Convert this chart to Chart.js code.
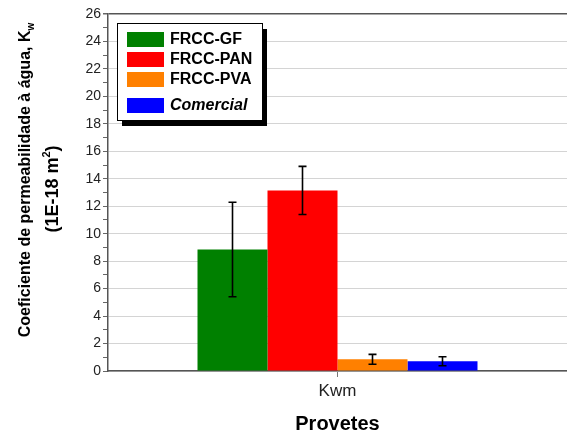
<!DOCTYPE html>
<html>
<head>
<meta charset="utf-8">
<script src="https://cdn.jsdelivr.net/npm/chart.js@4/dist/chart.umd.min.js"></script>
<style>
  html, body { margin: 0; padding: 0; background: #fff; }
  #wrap { width: 567px; height: 434px; }
</style>
</head>
<body>
<div id="wrap"><canvas id="chart" width="567" height="434"></canvas></div>
<script>
// --- Data ---
const CATEGORIES = ['Kwm'];
const SERIES = ['FRCC-GF', 'FRCC-PAN', 'FRCC-PVA', 'Comercial'];
const COLORS = ['#008000', '#ff0000', '#ff8000', '#0000ff'];
const VALUES = [8.85, 13.15, 0.85, 0.71];
const ERRORS = [3.44, 1.75, 0.36, 0.33];
const Y_MAX = 26;

const FONT = '"Liberation Sans", Arial, sans-serif';

// --- Error bars ---
const errorBars = {
  id: 'errorBars',
  afterDatasetsDraw(chart) {
    const ctx = chart.ctx;
    const y = chart.scales.y;
    ctx.save();
    ctx.strokeStyle = '#000';
    ctx.lineWidth = 1.6;
    chart.data.datasets.forEach((ds, i) => {
      const bar = chart.getDatasetMeta(i).data[0];
      const v = ds.data[0], e = ERRORS[i];
      const y1 = y.getPixelForValue(v + e), y2 = y.getPixelForValue(v - e);
      const x = bar.x;
      ctx.beginPath();
      ctx.moveTo(x, y1); ctx.lineTo(x, y2);
      ctx.moveTo(x - 4, y1); ctx.lineTo(x + 4, y1);
      ctx.moveTo(x - 4, y2); ctx.lineTo(x + 4, y2);
      ctx.stroke();
    });
    ctx.restore();
  }
};

// --- Legend box with shadow ---
const boxLegend = {
  id: 'boxLegend',
  afterDraw(chart) {
    const ctx = chart.ctx;
    const bx = 117, by = 23, bw = 145, bh = 97;
    ctx.save();
    ctx.fillStyle = '#000';
    ctx.fillRect(bx + 5, by + 6, bw, bh);
    ctx.fillStyle = '#fff';
    ctx.fillRect(bx, by, bw, bh);
    ctx.strokeStyle = '#000';
    ctx.lineWidth = 1;
    ctx.strokeRect(bx + 0.5, by + 0.5, bw, bh);
    const rows = [39, 59, 79, 105];
    chart.data.datasets.forEach((ds, i) => {
      ctx.fillStyle = ds.backgroundColor;
      ctx.fillRect(127, rows[i] - 7, 37, 15);
      ctx.fillStyle = '#000';
      ctx.font = (i === 3 ? 'italic ' : '') + 'bold 16px ' + FONT;
      ctx.textBaseline = 'middle';
      ctx.textAlign = 'left';
      ctx.fillText(ds.label, 170, rows[i] + 1);
    });
    ctx.restore();
  }
};

// --- Y axis title with sub/superscripts ---
const yTitle = {
  id: 'yTitle',
  afterDraw(chart) {
    const ctx = chart.ctx;
    ctx.save();
    ctx.fillStyle = '#000';
    ctx.textBaseline = 'middle';
    ctx.textAlign = 'left';
    function drawLine(cx, cy, parts) {
      let total = 0;
      parts.forEach(p => { ctx.font = p.font; total += ctx.measureText(p.t).width; });
      ctx.save();
      ctx.translate(cx, cy);
      ctx.rotate(-Math.PI / 2);
      let x = -total / 2;
      parts.forEach(p => {
        ctx.font = p.font;
        ctx.fillText(p.t, x, p.dy || 0);
        x += ctx.measureText(p.t).width;
      });
      ctx.restore();
    }
    drawLine(26, 180, [
      { t: 'Coeficiente de permeabilidade à água, K', font: 'bold 16px ' + FONT },
      { t: 'w', font: 'bold 10px ' + FONT, dy: 5 }
    ]);
    drawLine(53, 189, [
      { t: '(1E-18 m', font: 'bold 18px ' + FONT },
      { t: '2', font: 'bold 11px ' + FONT, dy: -6 },
      { t: ')', font: 'bold 18px ' + FONT }
    ]);
    ctx.restore();
  }
};

const datasets = SERIES.map((name, i) => ({
  label: name,
  data: [VALUES[i]],
  backgroundColor: COLORS[i],
  borderWidth: 0
}));

new Chart(document.getElementById('chart'), {
  type: 'bar',
  data: { labels: CATEGORIES, datasets },
  plugins: [errorBars, boxLegend, yTitle],
  options: {
    responsive: false,
    animation: false,
    layout: { padding: { left: 0, right: 0, top: 14, bottom: 0 } },
    datasets: { bar: { categoryPercentage: 0.61, barPercentage: 1 } },
    plugins: { legend: { display: false }, tooltip: { enabled: false } },
    scales: {
      x: {
        afterFit(s) { s.height = 63; },
        border: { color: '#555', width: 1.5 },
        grid: { offset: false, drawOnChartArea: false, drawTicks: true, tickLength: 6, color: '#777' },
        ticks: { color: '#222', font: { family: FONT, size: 17 }, padding: 4 },
        title: {
          display: true, text: 'Provetes', color: '#000',
          font: { family: FONT, size: 20, weight: 'bold', lineHeight: 1 }, padding: { top: 0, bottom: 0 }
        }
      },
      y: {
        min: 0, max: Y_MAX,
        afterFit(s) { s.width = 108; },
        border: { color: '#555', width: 1.5 },
        grid: {
          color: c => c.tick.value === Y_MAX ? '#555' : (c.tick.value % 2 ? 'transparent' : '#d4d4d4'),
          lineWidth: c => c.tick.value === Y_MAX ? 1.5 : 1,
          tickColor: '#666',
          tickLength: 5
        },
        ticks: {
          stepSize: 1, autoSkip: false, padding: 2, color: '#222',
          font: { family: FONT, size: 14 },
          callback: v => v % 2 ? '' : v
        }
      }
    }
  }
});
</script>
</body>
</html>
